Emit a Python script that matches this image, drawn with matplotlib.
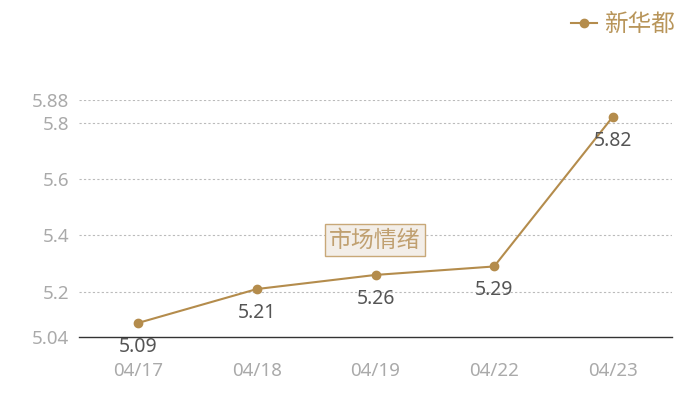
import matplotlib
matplotlib.use('Agg')
import matplotlib.pyplot as plt

plt.rcParams['font.family'] = ['Noto Sans', 'Noto Sans CJK SC', 'DejaVu Sans']

dates = ['04/17', '04/18', '04/19', '04/22', '04/23']
values = [5.09, 5.21, 5.26, 5.29, 5.82]
yticks = [5.04, 5.2, 5.4, 5.6, 5.8, 5.88]
series_name = '新华都'
watermark = '市场情绪'

gold = '#b48c4c'

fig = plt.figure(figsize=(7, 4), dpi=100)
ax = fig.add_axes([79/700, 1-337/400, (672-79)/700, (337-100)/400])

x = range(len(dates))
ax.plot(x, values, color=gold, lw=1.5, marker='o', ms=6, label=series_name)
for xi, v in zip(x, values):
    ax.annotate(f'{v:.2f}', (xi, v), xytext=(0, -17), textcoords='offset points',
                ha='center', va='center', fontsize=14, color='#555555')

ax.set_xlim(-0.5, len(dates) - 0.5)
ax.set_ylim(5.04, 5.88)
ax.set_xticks(list(x))
ax.set_xticklabels(dates)
ax.set_yticks(yticks)
ax.set_yticklabels([f'{t:g}' for t in yticks])
ax.tick_params(axis='both', length=0, labelsize=13.5, colors='#aaaaaa')
ax.tick_params(axis='x', pad=18)
ax.tick_params(axis='y', pad=7)
for t in yticks[1:]:
    ax.axhline(t, color='#bbbbbb', lw=0.8, ls=(0, (2, 2)), zorder=0)
for s in ['top', 'right', 'left']:
    ax.spines[s].set_visible(False)
ax.spines['bottom'].set_color('#333333')
ax.spines['bottom'].set_linewidth(1)

fig.text(375/700, 1-240/400, watermark, ha='center', va='center', fontsize=16.5,
         color='#c0a070', family=['Noto Sans CJK SC', 'DejaVu Sans'],
         bbox=dict(boxstyle='square,pad=0.18', fc='#f3eee8', ec='#c8a878', lw=1))

leg = fig.legend(loc='upper right', bbox_to_anchor=(0.995, 1.02), frameon=False,
                 handlelength=1.1, handletextpad=0.3,
                 prop={'family': ['Noto Sans CJK SC'], 'size': 17})
for t in leg.get_texts():
    t.set_color('#b8955a')

fig.savefig('out.png', dpi=100)
